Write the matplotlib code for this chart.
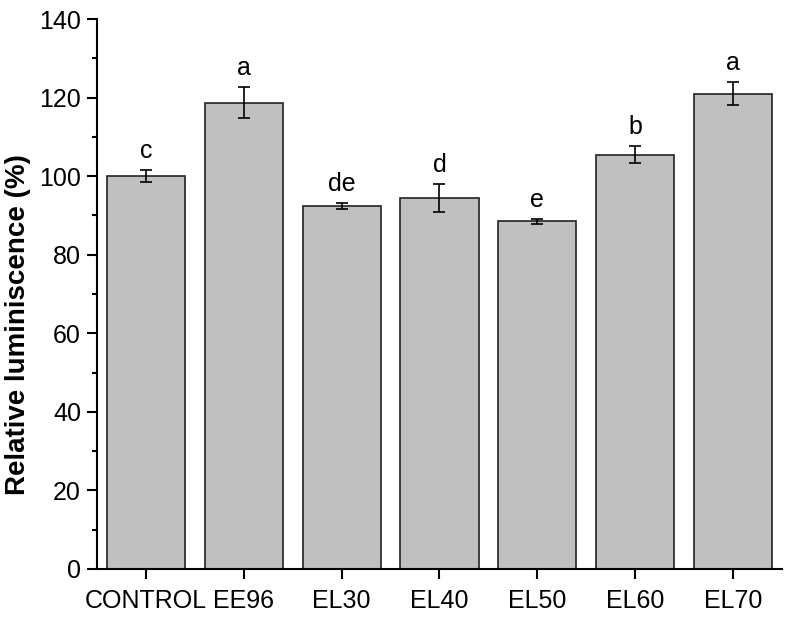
import matplotlib
matplotlib.use("Agg")
import matplotlib.pyplot as plt
from matplotlib.ticker import MultipleLocator

plt.rcParams['font.family'] = ['Liberation Sans', 'DejaVu Sans']

# data
groups = ["CONTROL", "EE96", "EL30", "EL40", "EL50", "EL60", "EL70"]
means = [100.0, 118.7, 92.4, 94.5, 88.5, 105.5, 121.0]
errors = [1.5, 4.0, 0.8, 3.5, 0.6, 2.1, 2.9]
letters = ["c", "a", "de", "d", "e", "b", "a"]

fig = plt.figure(figsize=(7.89, 6.17), dpi=100)
ax = fig.add_axes([0.123, 0.078, 0.868, 0.891])

x = range(len(groups))
ax.bar(x, means, width=0.8, color="#c0c0c0", edgecolor="#222222", linewidth=1.2,
       yerr=errors, capsize=4.5, error_kw=dict(ecolor="black", elinewidth=1.2, capthick=1.2))

for i in x:
    ax.annotate(letters[i], (i, means[i] + errors[i]), xytext=(0, 5),
                textcoords="offset points", ha="center", va="bottom", fontsize=18)

ax.set_xlim(-0.5, 6.5)
ax.set_ylim(0, 140)
ax.set_xticks(list(x))
ax.set_xticklabels(groups)
ax.yaxis.set_major_locator(MultipleLocator(20))
ax.yaxis.set_minor_locator(MultipleLocator(10))
ax.set_ylabel("Relative luminiscence (%)", fontsize=20, fontweight="bold")
ax.yaxis.set_label_coords(-0.097, 0.445)

for side in ["top", "right"]:
    ax.spines[side].set_visible(False)
for side in ["left", "bottom"]:
    ax.spines[side].set_linewidth(1.5)

ax.tick_params(axis="both", which="major", direction="out", length=7.5, width=1.5,
               labelsize=18)
ax.tick_params(axis="x", which="major", pad=7)
ax.tick_params(axis="y", which="major", pad=4)
ax.tick_params(axis="y", which="minor", direction="out", length=3.5, width=1.5)

fig.savefig("out.png", dpi=100)
